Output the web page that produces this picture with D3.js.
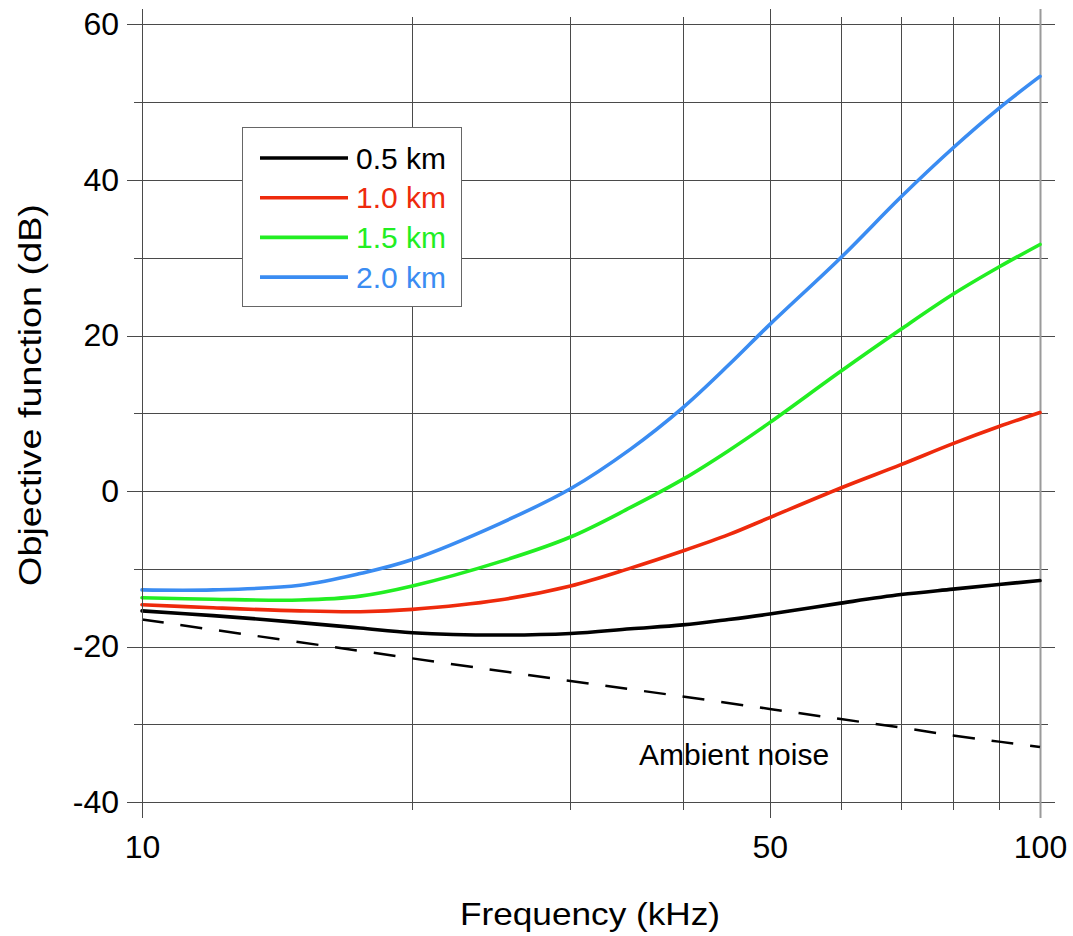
<!DOCTYPE html>
<html>
<head>
<meta charset="utf-8">
<script src="https://cdn.jsdelivr.net/npm/d3@7"></script>
<style>
  html, body { margin: 0; padding: 0; background: #fff; }
  svg { display: block; font-family: "Liberation Sans", Arial, Helvetica, sans-serif; }
</style>
</head>
<body>
<svg id="chart" width="1073" height="936"></svg>
<script>
// Frequencies (kHz) at which the curves are sampled
const freqs = [10, 12, 15, 17.5, 20, 25, 30, 35, 40, 45, 50, 60, 70, 80, 90, 100];

// Objective function (dB) for each range
const range05 = [-15.4, -16.0, -16.9, -17.6, -18.2, -18.5, -18.3, -17.7, -17.2, -16.5, -15.8, -14.4, -13.3, -12.6, -12.0, -11.5];
const range10 = [-14.6, -15.0, -15.4, -15.5, -15.2, -14.0, -12.2, -9.9, -7.7, -5.6, -3.4, 0.4, 3.4, 6.1, 8.3, 10.1];
const range15 = [-13.7, -13.9, -14.0, -13.5, -12.2, -9.1, -5.9, -2.1, 1.5, 5.2, 8.8, 15.4, 20.8, 25.3, 28.8, 31.7];
const range20 = [-12.7, -12.7, -12.1, -10.6, -8.8, -4.2, 0.3, 5.4, 10.7, 16.2, 21.4, 30.0, 37.8, 44.1, 49.2, 53.3];

// Ambient noise level (dB)
const noiseFreqs = [10, 20, 30, 40, 50, 60, 70, 80, 90, 100];
const noiseLevel = [-16.5, -21.5, -24.4, -26.4, -28.0, -29.3, -30.4, -31.4, -32.2, -32.9];

// Legend labels and series colours
const seriesLabels = ["0.5 km", "1.0 km", "1.5 km", "2.0 km"];
const seriesColors = ["#000000", "#ee2a0c", "#22ee22", "#3a8cf2"];
const seriesValues = [range05, range10, range15, range20];

// Axis ticks
const xGrid = [10, 20, 30, 40, 50, 60, 70, 80, 90, 100];
const xLabeled = [10, 50, 100];
const yGrid = [-40, -30, -20, -10, 0, 10, 20, 30, 40, 50, 60];
const yLabeled = [-40, -20, 0, 20, 40, 60];

const svg = d3.select("#chart");
const font = "'Liberation Sans', Arial, sans-serif";

const x = d3.scaleLog().domain([10, 100]).range([142, 1040]);
const y = d3.scaleLinear().domain([-40, 60]).range([802.3, 24.3]);

const gridColor = "#4a4a4a";

// Horizontal grid lines; labelled levels reach further out on both sides
svg.append("g").selectAll("line").data(yGrid).join("line")
  .attr("x1", d => yLabeled.includes(d) ? 127 : 134)
  .attr("x2", d => yLabeled.includes(d) ? 1055 : 1048)
  .attr("y1", d => Math.round(y(d)) + 0.5)
  .attr("y2", d => Math.round(y(d)) + 0.5)
  .attr("stroke", gridColor).attr("stroke-width", 1);

// Vertical grid lines
svg.append("g").selectAll("line").data(xGrid).join("line")
  .attr("x1", d => Math.round(x(d)) + 0.5)
  .attr("x2", d => Math.round(x(d)) + 0.5)
  .attr("y1", d => xLabeled.includes(d) ? 9 : 17)
  .attr("y2", d => xLabeled.includes(d) ? 818 : 810)
  .attr("stroke", d => d === 100 ? "#9a9a9a" : gridColor)
  .attr("stroke-width", d => d === 100 ? 2 : 1);

// Y axis labels (plain hyphen for negatives)
const yAxis = d3.axisLeft(y).tickValues(yLabeled).tickSize(0).tickPadding(0)
  .tickFormat(d => String(d));
const yg = svg.append("g").attr("transform", "translate(119,0)").call(yAxis);
yg.select(".domain").remove();
yg.selectAll("text").attr("font-size", 32).attr("fill", "#000").attr("font-family", font);

// X axis labels
const xAxis = d3.axisBottom(x).tickValues(xLabeled).tickSize(0).tickPadding(0)
  .tickFormat(d => String(d));
const xg = svg.append("g").attr("transform", "translate(0,835)").call(xAxis);
xg.select(".domain").remove();
xg.selectAll("text").attr("font-size", 32).attr("fill", "#000").attr("font-family", font);

// Axis titles (slightly widened lettering)
svg.append("text")
  .attr("transform", "translate(590,925) scale(1.1,1)")
  .attr("text-anchor", "middle")
  .attr("font-size", 32)
  .text("Frequency (kHz)");

svg.append("text")
  .attr("transform", "translate(41,395) rotate(-90) scale(1.18,1)")
  .attr("text-anchor", "middle")
  .attr("font-size", 32)
  .text("Objective function (dB)");

// Curves
const line = d3.line()
  .x(d => x(d[0]))
  .y(d => y(d[1]))
  .curve(d3.curveCatmullRom.alpha(0.5));

// Ambient noise (dashed)
svg.append("path")
  .datum(noiseFreqs.map((f, i) => [f, noiseLevel[i]]))
  .attr("d", line)
  .attr("fill", "none")
  .attr("stroke", "#000")
  .attr("stroke-width", 2.5)
  .attr("stroke-dasharray", "22,17");

svg.append("text")
  .attr("x", 639).attr("y", 765)
  .attr("font-size", 30)
  .text("Ambient noise");

seriesValues.forEach((vals, i) => {
  svg.append("path")
    .datum(freqs.map((f, j) => [f, vals[j]]))
    .attr("d", line)
    .attr("fill", "none")
    .attr("stroke", seriesColors[i])
    .attr("stroke-width", 3.6)
    .attr("stroke-linejoin", "round")
    .attr("stroke-linecap", "round");
});

// Left axis line drawn on top
svg.append("line")
  .attr("x1", 142.5).attr("x2", 142.5)
  .attr("y1", 9).attr("y2", 818)
  .attr("stroke", gridColor).attr("stroke-width", 1);

// Legend
const legend = svg.append("g");
legend.append("rect")
  .attr("x", 242.5).attr("y", 127.5)
  .attr("width", 219).attr("height", 179)
  .attr("fill", "#fff")
  .attr("stroke", "#666").attr("stroke-width", 1);

const rows = legend.selectAll("g.row").data(seriesLabels).join("g")
  .attr("class", "row")
  .attr("transform", (d, i) => `translate(0,${158 + i * 39.7})`);

rows.append("line")
  .attr("x1", 260).attr("x2", 348)
  .attr("y1", 0).attr("y2", 0)
  .attr("stroke", (d, i) => seriesColors[i])
  .attr("stroke-width", 3.6);

rows.append("text")
  .attr("x", 356).attr("y", 10.5)
  .attr("font-size", 30)
  .attr("fill", (d, i) => seriesColors[i])
  .text(d => d);
</script>
</body>
</html>
